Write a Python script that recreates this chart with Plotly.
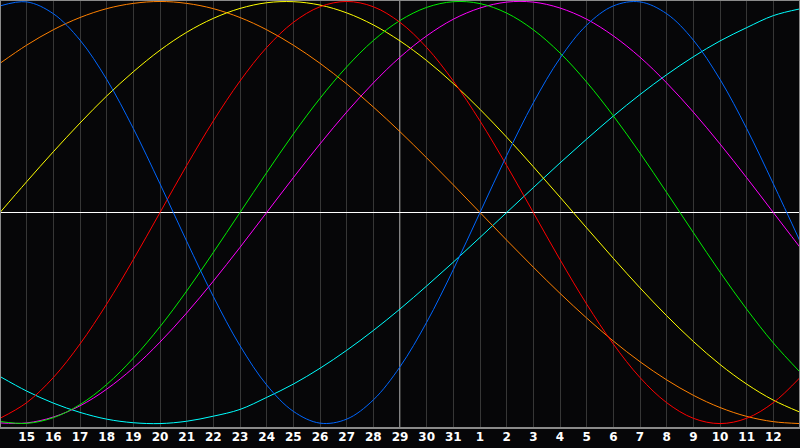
import plotly.graph_objects as go

# Day positions (index 0..30 spans the visible window; labels shown for 1..29)
day_index = list(range(31))
tick_labels = ["15", "16", "17", "18", "19", "20", "21", "22", "23", "24", "25", "26", "27", "28",
               "29", "30", "31", "1", "2", "3", "4", "5", "6", "7", "8", "9", "10", "11", "12"]
tick_positions = list(range(1, 30))
today_index = 15

# Cycle values (one per day)
physical_23 = [0.979, 0.998, 0.942, 0.817, 0.631, 0.398, 0.136, -0.136, -0.398, -0.631,
               -0.817, -0.942, -0.998, -0.979, -0.888, -0.731, -0.520, -0.270, 0.000, 0.270,
               0.520, 0.731, 0.888, 0.979, 0.998, 0.942, 0.817, 0.631, 0.398, 0.136, -0.136]
emotional_28 = [-0.975, -0.901, -0.782, -0.623, -0.434, -0.223, 0.000, 0.223, 0.434, 0.623,
                0.782, 0.901, 0.975, 1.000, 0.975, 0.901, 0.782, 0.623, 0.434, 0.223,
                0.000, -0.223, -0.434, -0.623, -0.782, -0.901, -0.975, -1.000, -0.975, -0.901, -0.782]
intellectual_33 = [-0.990, -0.999, -0.972, -0.910, -0.815, -0.690, -0.541, -0.372, -0.189, 0.000,
                   0.189, 0.372, 0.541, 0.690, 0.815, 0.910, 0.972, 0.999, 0.990, 0.945,
                   0.866, 0.756, 0.618, 0.458, 0.282, 0.095, -0.095, -0.282, -0.458, -0.618, -0.756]
intuitive_38 = [-0.997, -0.997, -0.969, -0.916, -0.837, -0.736, -0.614, -0.476, -0.325, -0.165,
                0.000, 0.165, 0.325, 0.476, 0.614, 0.736, 0.837, 0.916, 0.969, 0.997,
                0.997, 0.969, 0.916, 0.837, 0.736, 0.614, 0.476, 0.325, 0.165, 0.000, -0.165]
aesthetic_43 = [0.000, 0.146, 0.288, 0.424, 0.552, 0.667, 0.769, 0.854, 0.920, 0.967,
                0.994, 0.999, 0.983, 0.946, 0.889, 0.813, 0.720, 0.611, 0.489, 0.357,
                0.217, 0.073, -0.073, -0.217, -0.357, -0.489, -0.611, -0.720, -0.813, -0.889, -0.946]
awareness_48 = [0.707, 0.793, 0.866, 0.924, 0.966, 0.991, 1.000, 0.991, 0.966, 0.924,
                0.866, 0.793, 0.707, 0.609, 0.500, 0.383, 0.259, 0.131, 0.000, -0.131,
                -0.259, -0.383, -0.500, -0.609, -0.707, -0.793, -0.866, -0.924, -0.966, -0.991, -1.000]
spiritual_53 = [-0.777, -0.846, -0.903, -0.947, -0.979, -0.996, -1.000, -0.989, -0.965, -0.933,
                -0.876, -0.813, -0.738, -0.653, -0.559, -0.457, -0.348, -0.235, -0.118, 0.000,
                0.118, 0.235, 0.348, 0.457, 0.559, 0.653, 0.738, 0.813, 0.876, 0.933, 0.965]

series = [
    ("Spiritual", spiritual_53, "#00ffff"),
    ("Awareness", awareness_48, "#ff8000"),
    ("Aesthetic", aesthetic_43, "#ffff00"),
    ("Intuitive", intuitive_38, "#ff00ff"),
    ("Intellectual", intellectual_33, "#00ee00"),
    ("Emotional", emotional_28, "#ff0000"),
    ("Physical", physical_23, "#0066ff"),
]

fig = go.Figure()
for name, vals, color in series:
    fig.add_trace(go.Scatter(x=day_index, y=vals, name=name, mode="lines",
                             line=dict(color=color, width=1, shape="spline"),
                             hoverinfo="skip"))

fig.update_layout(
    width=800, height=448,
    margin=dict(l=0, r=0, t=0, b=20),
    paper_bgcolor="#060608",
    plot_bgcolor="#060608",
    showlegend=False,
    hovermode=False,
    xaxis=dict(range=[0, 30], tickvals=tick_positions, ticktext=tick_labels,
               showgrid=True, gridcolor="#363636", gridwidth=1, zeroline=False,
               ticks="", showline=False, fixedrange=True, ticklabelstandoff=0,
               tickfont=dict(family="DejaVu Sans", size=12, color="#ffffff", weight="bold")),
    yaxis=dict(range=[-1.021, 1.007], showgrid=False, zeroline=True,
               zerolinecolor="#ffffff", zerolinewidth=1, showticklabels=False,
               ticks="", fixedrange=True),
    shapes=[
        dict(type="line", xref="x", yref="paper", x0=today_index, x1=today_index, y0=0, y1=1,
             line=dict(color="#ffffff", width=1), layer="below"),
        dict(type="rect", xref="paper", yref="paper", x0=0, x1=1, y0=0, y1=1,
             line=dict(color="#8a8a8a", width=2), layer="above"),
    ],
)

fig.write_html("out.html", config={"displayModeBar": False, "staticPlot": True},
               post_script="document.body.style.margin='0px';document.body.style.overflow='hidden';")
